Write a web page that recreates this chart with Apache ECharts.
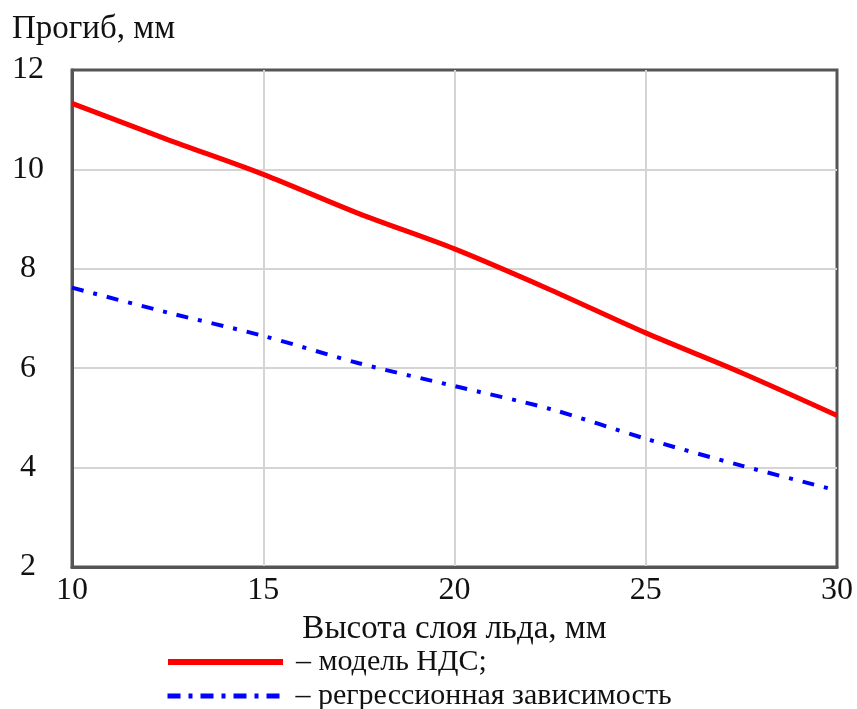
<!DOCTYPE html>
<html>
<head>
<meta charset="utf-8">
<script src="https://cdn.jsdelivr.net/npm/echarts@6/dist/echarts.min.js"></script>
<style>
  html, body { margin: 0; padding: 0; background: #ffffff; }
  #chart { width: 857px; height: 709px; }
</style>
</head>
<body>
<div id="chart"></div>
<script>
// Ice layer height, mm
const iceHeight = [10, 12.5, 15, 17.5, 20, 22.5, 25, 27.5, 30];
// Deflection from the stress-strain (НДС) model, mm
const modelDeflection = [11.33, 10.6, 9.9, 9.11, 8.4, 7.58, 6.71, 5.91, 5.05];
// Deflection from the regression dependence, mm
const regressionDeflection = [7.62, 7.12, 6.65, 6.1, 5.64, 5.18, 4.58, 4.04, 3.54];

const seriesNames = ['модель НДС;', 'регрессионная зависимость'];
const xTitle = 'Высота слоя льда, мм';
const yTitle = 'Прогиб, мм';

const FONT = "'Liberation Serif', 'Times New Roman', serif";
const RED = '#ff0000';
const BLUE = '#0000ff';
const DASH_DOT = [12, 10, 4, 10];

const pairs = (xs, ys) => xs.map((x, i) => [x, ys[i]]);

// One legend row per series, stacked under the axis title
const legendRow = (name, top, lineStyle) => ({
  left: 165, top: top, padding: 0,
  itemWidth: 115, itemHeight: 14,
  selectedMode: false,
  data: [{ name: name, itemStyle: { opacity: 0 }, lineStyle: lineStyle }],
  formatter: n => '– ' + n,
  textStyle: { fontFamily: FONT, fontSize: 30, color: '#111', padding: [0, 0, 0, 8] }
});

const chart = echarts.init(document.getElementById('chart'), null, { renderer: 'canvas' });

chart.setOption({
  backgroundColor: '#ffffff',
  animation: false,
  grid: {
    left: 72, right: 20, top: 70, bottom: 142,
    show: true, borderColor: '#555555', borderWidth: 3
  },
  legend: [
    legendRow(seriesNames[0], 647, { color: RED, width: 6, type: 'solid' }),
    legendRow(seriesNames[1], 681, { color: BLUE, width: 5, type: [13, 8, 4, 8], cap: 'butt' })
  ],
  xAxis: {
    type: 'value', min: 10, max: 30, interval: 5,
    name: xTitle, nameLocation: 'middle', nameGap: 46,
    nameTextStyle: { fontFamily: FONT, fontSize: 33, color: '#111' },
    axisLine: { show: true, lineStyle: { color: '#555555', width: 3 } },
    axisTick: { show: false },
    axisLabel: { fontFamily: FONT, fontSize: 32, color: '#111', margin: 8 },
    splitLine: { show: true, showMinLine: false, showMaxLine: false, lineStyle: { color: '#d4d4d4', width: 2 } }
  },
  yAxis: {
    type: 'value', min: 2, max: 12, interval: 2,
    name: yTitle, nameLocation: 'end', nameGap: 24,
    nameTextStyle: { fontFamily: FONT, fontSize: 33, color: '#111', align: 'left', padding: [0, 0, 0, -60] },
    axisLine: { show: true, lineStyle: { color: '#555555', width: 3 } },
    axisTick: { show: false },
    axisLabel: { fontFamily: FONT, fontSize: 32, color: '#111', align: 'center', margin: 44 },
    splitLine: { show: true, showMinLine: false, showMaxLine: false, lineStyle: { color: '#d4d4d4', width: 2 } }
  },
  series: [
    {
      name: seriesNames[0],
      type: 'line',
      data: pairs(iceHeight, modelDeflection),
      symbol: 'none',
      smooth: 0.3,
      lineStyle: { color: RED, width: 5 },
      itemStyle: { color: RED },
      z: 3
    },
    {
      name: seriesNames[1],
      type: 'line',
      data: pairs(iceHeight, regressionDeflection),
      symbol: 'none',
      smooth: 0.3,
      lineStyle: { color: BLUE, width: 4, type: DASH_DOT, cap: 'butt' },
      itemStyle: { color: BLUE },
      z: 3
    }
  ]
});
</script>
</body>
</html>
